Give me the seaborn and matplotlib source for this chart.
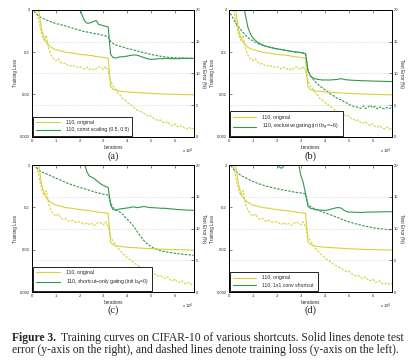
import numpy as np
import pandas as pd
import matplotlib
matplotlib.use("Agg")
import matplotlib.pyplot as plt
from matplotlib.ticker import NullLocator
import seaborn as sns

# --- data (iterations in units of 1e4) ---
iters = np.round(np.arange(0, 6.85, 0.1), 1)

# 110, original (same baseline in all four panels)
base_err = [40, 32, 24, 19.5, 17.0, 15.6, 14.9, 14.4, 14.1, 13.9,
            13.7, 13.65, 13.5, 13.45, 13.3, 13.3, 13.2, 13.2, 13.1, 13.05,
            13.0, 12.95, 12.9, 12.9, 12.8, 12.8, 12.7, 12.65, 12.6, 12.55,
            12.5, 12.45, 12.4, 7.9, 7.5, 7.35, 7.25, 7.2, 7.15, 7.1,
            7.08, 7.05, 7.02, 7.0, 6.98, 6.95, 6.93, 6.9, 6.88, 6.86,
            6.84, 6.82, 6.8, 6.78, 6.77, 6.75, 6.74, 6.72, 6.71, 6.7,
            6.69, 6.68, 6.67, 6.66, 6.65, 6.64, 6.63, 6.62, 6.61]
base_loss = [4.0, 3.0, 1.9, 1.0, 0.55, 0.38, 0.5, 0.24, 0.17, 0.14,
             0.125, 0.14, 0.115, 0.105, 0.11, 0.098, 0.094, 0.1, 0.09, 0.088,
             0.093, 0.085, 0.08, 0.088, 0.078, 0.083, 0.075, 0.082, 0.09, 0.086,
             0.078, 0.092, 0.07, 0.042, 0.032, 0.027, 0.022, 0.0195, 0.016, 0.0148,
             0.013, 0.0118, 0.0108, 0.0098, 0.0088, 0.0082, 0.0077, 0.0072, 0.0066, 0.0061,
             0.0063, 0.0055, 0.0052, 0.0048, 0.005, 0.0044, 0.0042, 0.0046, 0.0039, 0.0037,
             0.0041, 0.0035, 0.0034, 0.0037, 0.0032, 0.0031, 0.0034, 0.003, 0.0032]

# (a) const scaling (0.5, 0.5)
const_err = [30, 29, 28, 27, 26.5, 26, 25.5, 25, 24.5, 24,
             23.5, 23.2, 23, 22.7, 22.4, 22.1, 21.8, 21.5, 21.2, 20.8,
             20.2, 19.2, 18.3, 17.9, 17.9, 18.0, 18.2, 18.3, 17.7, 17.6,
             17.5, 17.4, 17.3, 13.0, 12.5, 12.4, 12.5, 12.6, 12.6, 12.65,
             12.7, 12.8, 12.85, 12.9, 12.85, 12.75, 12.6, 12.5, 12.35, 12.25,
             12.2, 12.2, 12.25, 12.3, 12.3, 12.3, 12.35, 12.35, 12.3, 12.3,
             12.3, 12.3, 12.3, 12.35, 12.35, 12.35, 12.35, 12.35, 12.35]
const_loss = [2.2, 1.8, 1.55, 1.4, 1.3, 1.22, 1.15, 1.09, 1.04, 0.99,
              0.95, 0.92, 0.89, 0.86, 0.83, 0.8, 0.77, 0.74, 0.71, 0.68,
              0.66, 0.63, 0.61, 0.6, 0.58, 0.57, 0.55, 0.54, 0.53, 0.51,
              0.5, 0.48, 0.46, 0.36, 0.32, 0.3, 0.285, 0.275, 0.265, 0.255,
              0.245, 0.238, 0.23, 0.222, 0.215, 0.208, 0.2, 0.194, 0.188, 0.182,
              0.177, 0.172, 0.168, 0.164, 0.16, 0.157, 0.154, 0.152, 0.15, 0.149,
              0.148, 0.147, 0.146, 0.146, 0.145, 0.145, 0.144, 0.144, 0.143]

# (b) exclusive gating (init bg=-6)
excl_err = [40, 36, 32, 29, 26, 23, 21, 19.0, 17.2, 16.2,
            15.6, 15.2, 14.9, 14.7, 14.5, 14.3, 14.2, 14.1, 14.0, 13.9,
            13.85, 13.8, 13.7, 13.65, 13.6, 13.5, 13.45, 13.4, 13.35, 13.3,
            13.25, 13.2, 13.1, 10.5, 9.6, 9.3, 9.15, 9.05, 9.0, 8.95,
            8.95, 8.95, 8.95, 8.97, 9.0, 9.02, 9.1, 9.15, 9.05, 8.98,
            8.95, 8.92, 8.9, 8.88, 8.86, 8.85, 8.83, 8.82, 8.8, 8.8,
            8.78, 8.77, 8.76, 8.75, 8.74, 8.73, 8.72, 8.71, 8.7]
excl_loss = [2.0, 1.5, 1.2, 0.95, 0.8, 0.68, 0.58, 0.5, 0.44, 0.4,
             0.37, 0.34, 0.32, 0.3, 0.29, 0.28, 0.27, 0.26, 0.255, 0.25,
             0.24, 0.235, 0.23, 0.225, 0.22, 0.215, 0.21, 0.205, 0.2, 0.2,
             0.195, 0.19, 0.185, 0.075, 0.055, 0.047, 0.04, 0.036, 0.031, 0.029,
             0.026, 0.024, 0.021, 0.02, 0.018, 0.0165, 0.0155, 0.015, 0.0135, 0.0128,
             0.0115, 0.0112, 0.0105, 0.0102, 0.01, 0.0094, 0.0108, 0.0093, 0.01, 0.0112,
             0.0097, 0.0105, 0.0091, 0.0101, 0.0096, 0.009, 0.0099, 0.0094, 0.0098]

# (c) shortcut-only gating (init bg=0)
sc_err = [35, 33, 31, 30, 29, 28, 27.5, 27, 26.5, 26,
          25.5, 25, 24.5, 24, 23.5, 23, 22.5, 22, 21.6, 21.2,
          20.9, 20.6, 20.3, 19.0, 18.3, 18.1, 17.9, 17.6, 17.3, 17.0,
          16.8, 16.6, 16.5, 13.8, 13.0, 12.9, 13.0, 13.1, 13.15, 13.2,
          13.25, 13.3, 13.4, 13.4, 13.3, 13.35, 13.4, 13.5, 13.4, 13.35,
          13.3, 13.3, 13.25, 13.25, 13.2, 13.2, 13.2, 13.15, 13.1, 13.1,
          13.05, 13.0, 13.0, 12.95, 12.95, 12.9, 12.9, 12.9, 12.85]
sc_loss = [2.5, 2.0, 1.7, 1.5, 1.4, 1.3, 1.25, 1.18, 1.1, 1.04,
           0.98, 0.93, 0.88, 0.83, 0.78, 0.74, 0.71, 0.68, 0.65, 0.62,
           0.6, 0.57, 0.55, 0.53, 0.51, 0.49, 0.47, 0.45, 0.44, 0.42,
           0.41, 0.4, 0.39, 0.26, 0.2, 0.18, 0.165, 0.155, 0.14, 0.12,
           0.105, 0.092, 0.08, 0.068, 0.056, 0.046, 0.039, 0.033, 0.029, 0.026,
           0.024, 0.022, 0.021, 0.0198, 0.019, 0.0185, 0.018, 0.0176, 0.0172, 0.0168,
           0.0165, 0.0162, 0.016, 0.0158, 0.0155, 0.0153, 0.0152, 0.015, 0.0148]

# (d) 1x1 conv shortcut
conv_err = [40, 38, 36, 34, 32, 30, 28.5, 27, 26, 25,
            24.2, 23.6, 23, 22.5, 22, 21.6, 21.3, 21, 20.8, 20.6,
            20.1, 19.7, 19.5, 19.9, 20.3, 21, 21.5, 21.5, 21, 20.5,
            18.4, 17.3, 15.5, 13.5, 13.2, 13.1, 13.0, 12.95, 12.9, 12.9,
            12.85, 12.9, 13.0, 13.1, 13.2, 13.3, 13.3, 13.2, 12.9, 12.7,
            12.6, 12.6, 12.58, 12.56, 12.55, 12.55, 12.56, 12.58, 12.6, 12.6,
            12.6, 12.62, 12.62, 12.63, 12.64, 12.65, 12.65, 12.65, 12.65]
conv_loss = [2.3, 1.9, 1.6, 1.4, 1.25, 1.15, 1.07, 1.0, 0.93, 0.87,
             0.82, 0.78, 0.74, 0.71, 0.68, 0.65, 0.63, 0.61, 0.59, 0.57,
             0.555, 0.54, 0.525, 0.51, 0.5, 0.49, 0.475, 0.465, 0.455, 0.445,
             0.44, 0.43, 0.42, 0.24, 0.21, 0.195, 0.185, 0.175, 0.165, 0.158,
             0.15, 0.143, 0.136, 0.13, 0.124, 0.118, 0.112, 0.106, 0.1, 0.096,
             0.092, 0.088, 0.085, 0.082, 0.079, 0.077, 0.074, 0.072, 0.07, 0.068,
             0.067, 0.065, 0.064, 0.063, 0.062, 0.061, 0.06, 0.06, 0.059]

panel_tags = ["(a)", "(b)", "(c)", "(d)"]
panel_names = ["110, const scaling (0.5, 0.5)",
               "110, exclusive gating (init b$_g$=\u22126)",
               "110, shortcut\u2212only gating (init b$_g$=0)",
               "110, 1x1 conv shortcut"]
panel_err = [const_err, excl_err, sc_err, conv_err]
panel_loss = [const_loss, excl_loss, sc_loss, conv_loss]

yellow = "#d6d23a"
green = "#2f9a4c"
dash = (0, (2.2, 1.2))

sns.set_style("white")
plt.rcParams["font.family"] = ["Liberation Sans", "DejaVu Sans"]
plt.rcParams["mathtext.fontset"] = "dejavusans"

fig = plt.figure(figsize=(4.16, 3.62), dpi=100)

boxes = [[0.077, 0.622, 0.389, 0.351], [0.550, 0.622, 0.392, 0.351],
         [0.077, 0.193, 0.389, 0.351], [0.550, 0.193, 0.392, 0.351]]
tag_pos = [(0.272, 0.569), (0.746, 0.569), (0.272, 0.143), (0.746, 0.143)]

for i in range(4):
    ax = fig.add_axes(boxes[i])
    ax2 = ax.twinx()

    # training loss (dashed, left axis, log)
    sns.lineplot(x=iters, y=base_loss, ax=ax, color=yellow, lw=0.8, linestyle=dash)
    sns.lineplot(x=iters, y=panel_loss[i], ax=ax, color=green, lw=0.8, linestyle=dash)
    ax.set_yscale("log")
    ax.set_ylim(0.002, 2)
    ax.set_yticks([0.002, 0.02, 0.2, 2])
    ax.set_yticklabels(["0.002", "0.02", "0.2", "2"])
    ax.yaxis.set_minor_locator(NullLocator())
    ax.set_xlim(0, 6.8)
    ax.set_xticks(range(7))
    ax.set_ylabel("Training Loss", fontsize=3.3, labelpad=1.5)
    ax.set_xlabel("Iterations", fontsize=3.3, labelpad=1.5)
    ax.tick_params(direction="in", labelsize=3.0, length=2, width=0.4, pad=1.5,
                   top=True, right=False)
    ax.text(1.0, -0.075, r"x 10$^4$", transform=ax.transAxes, ha="right",
            va="top", fontsize=3.0)

    # test error (solid, right axis)
    sns.lineplot(x=iters, y=base_err, ax=ax2, color=yellow, lw=0.8, label="110, original")
    sns.lineplot(x=iters, y=panel_err[i], ax=ax2, color=green, lw=0.8, label=panel_names[i])
    ax2.set_ylim(0, 20)
    ax2.set_yticks([0, 5, 10, 15, 20])
    ax2.set_xlim(0, 6.8)
    ax2.grid(axis="y", color="#c8c8c8", ls=":", lw=0.5)
    ax2.set_ylabel("Test Error (%)", fontsize=3.3, rotation=270, labelpad=4)
    ax2.tick_params(direction="in", labelsize=3.0, length=2, width=0.4, pad=1.5)

    for a in (ax, ax2):
        for s in a.spines.values():
            s.set_color("black")
            s.set_linewidth(0.7)

    leg = ax2.legend(loc="lower left", fontsize=3.7, frameon=True, fancybox=False,
                     edgecolor="black", borderaxespad=0.15, handlelength=4.5,
                     borderpad=0.7, labelspacing=0.45, handletextpad=1.2)
    leg.get_frame().set_linewidth(0.6)
    leg.get_frame().set_alpha(1)

    fig.text(tag_pos[i][0], tag_pos[i][1], panel_tags[i], ha="center", va="center",
             fontsize=7.5, family="Liberation Serif")

# caption, font size fitted so line 1 ends where the reference does
cap1 = "Training curves on CIFAR-10 of various shortcuts. Solid lines denote test"
cap2 = "error (y-axis on the right), and dashed lines denote training loss (y-axis on the left)."
x0 = 12 / 416
y1, y2 = 1 - 341 / 362, 1 - 353 / 362
fs = 7.4
r = fig.canvas.get_renderer()
for _ in range(3):
    t = fig.text(x0, y1, "Figure 3.", fontsize=fs, family="Liberation Serif",
                 weight="bold", va="baseline")
    w0 = t.get_window_extent(r).x1
    u = fig.text(w0 / 416 + 0.012, y1, cap1, fontsize=fs, family="Liberation Serif",
                 va="baseline")
    right = u.get_window_extent(r).x1
    t.remove()
    u.remove()
    fs = fs * (406 - 12) / (right - 12)

t = fig.text(x0, y1, "Figure 3.", fontsize=fs, family="Liberation Serif",
             weight="bold", va="baseline")
w0 = t.get_window_extent(r).x1
fig.text(w0 / 416 + 0.012, y1, cap1, fontsize=fs, family="Liberation Serif", va="baseline")
fig.text(x0, y2, cap2, fontsize=fs, family="Liberation Serif", va="baseline")

fig.savefig("out.png", dpi=100)
